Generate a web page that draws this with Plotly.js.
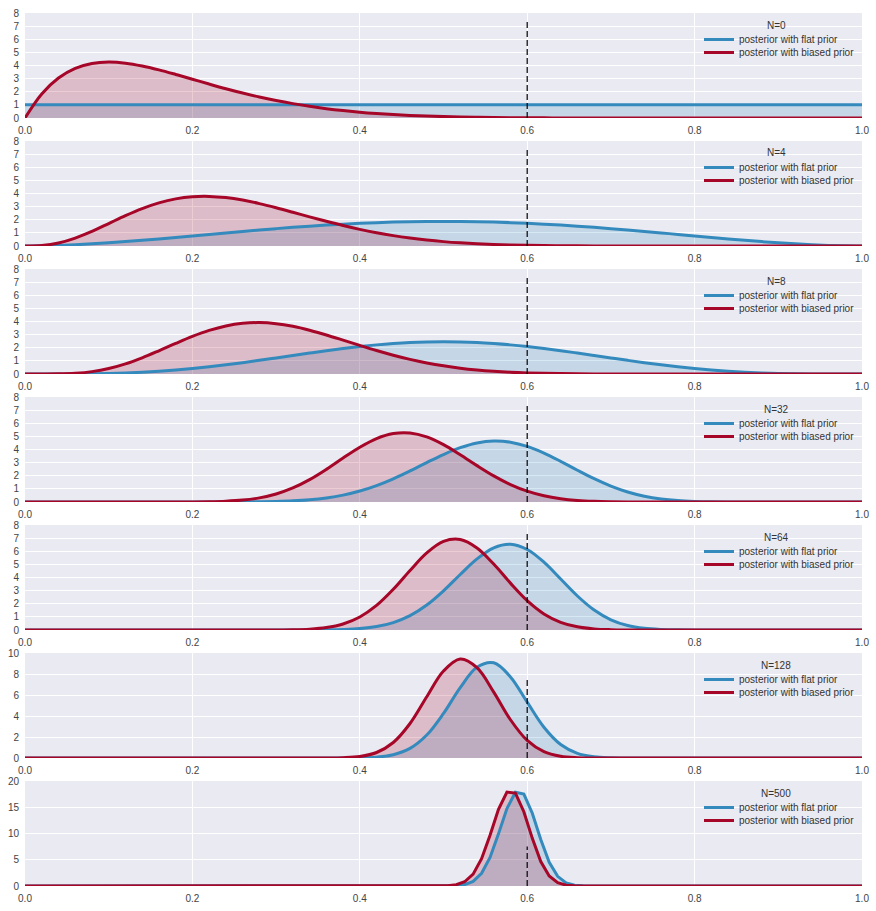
<!DOCTYPE html>
<html>
<head>
<meta charset="utf-8">
<script src="https://cdn.plot.ly/plotly-3.0.1.min.js"></script>
<style>html,body{margin:0;padding:0;background:#fff}#chart{width:876px;height:911px}</style>
</head>
<body>
<div id="chart"></div>
<script>
// grid of probabilities for panels N=0..128
const xs = [0,0.02,0.04,0.06,0.08,0.1,0.12,0.14,0.16,0.18,0.2,0.22,0.24,0.26,0.28,0.3,0.32,0.34,0.36,0.38,0.4,0.42,0.44,0.46,0.48,0.5,0.52,0.54,0.56,0.58,0.6,0.62,0.64,0.66,0.68,0.7,0.72,0.74,0.76,0.78,0.8,0.82,0.84,0.86,0.88,0.9,0.92,0.94,0.96,0.98,1];
// grid for N=500 panel
const xs500 = [0,0.4646,0.4747,0.4848,0.4949,0.5051,0.5152,0.5253,0.5354,0.5455,0.5556,0.5657,0.5758,0.5859,0.5960,0.6061,0.6162,0.6263,0.6364,0.6465,0.6566,0.6667,0.6768,0.6869,0.6970,1];

const sampleSizes = ["N=0","N=4","N=8","N=32","N=64","N=128","N=500"];
const seriesNames = ["posterior with flat prior", "posterior with biased prior"];
const trueP = 0.6;
const yMax = [8,8,8,8,8,10,20];
const yStep = [1,1,1,1,1,2,5];
const xTicks = [0, 0.2, 0.4, 0.6, 0.8, 1.0];

const flat0 = [1,1,1,1,1,1,1,1,1,1,1,1,1,1,1,1,1,1,1,1,1,1,1,1,1,1,1,1,1,1,1,1,1,1,1,1,1,1,1,1,1,1,1,1,1,1,1,1,1,1,1];
const biased0 = [0,1.834,3.047,3.782,4.155,4.261,4.178,3.963,3.664,3.318,2.953,2.586,2.233,1.903,1.601,1.332,1.094,0.889,0.713,0.566,0.443,0.343,0.262,0.198,0.147,0.107,0.077,0.055,0.038,0.026,0.017,0.011,0.007,0.004,0.003,0.002,0,0,0,0,0,0,0,0,0,0,0,0,0,0,0];

const flat4 = [0,0.012,0.044,0.095,0.163,0.243,0.335,0.435,0.542,0.654,0.768,0.883,0.998,1.111,1.219,1.323,1.421,1.511,1.593,1.665,1.728,1.780,1.821,1.851,1.869,1.875,1.869,1.851,1.821,1.780,1.728,1.665,1.593,1.511,1.421,1.323,1.219,1.111,0.998,0.883,0.768,0.654,0.542,0.435,0.335,0.243,0.163,0.095,0.044,0.012,0];
const biased4 = [0,0.035,0.223,0.597,1.117,1.713,2.313,2.851,3.286,3.589,3.752,3.780,3.688,3.497,3.231,2.915,2.572,2.221,1.880,1.559,1.268,1.011,0.790,0.605,0.454,0.333,0.239,0.168,0.115,0.076,0.050,0.031,0.019,0.011,0.006,0.003,0,0,0,0,0,0,0,0,0,0,0,0,0,0,0];

const flat8 = [0,0.0001,0.001,0.006,0.019,0.041,0.078,0.132,0.206,0.299,0.413,0.546,0.697,0.863,1.041,1.225,1.413,1.597,1.775,1.941,2.090,2.219,2.322,2.399,2.445,2.461,2.445,2.399,2.322,2.219,2.090,1.941,1.775,1.597,1.413,1.225,1.041,0.863,0.697,0.546,0.413,0.299,0.206,0.132,0.078,0.041,0.019,0.006,0.001,0.0001,0];
const biased8 = [0,0.0004,0.010,0.057,0.181,0.414,0.769,1.232,1.769,2.331,2.864,3.319,3.658,3.859,3.915,3.833,3.631,3.335,2.975,2.580,2.177,1.788,1.430,1.113,0.843,0.621,0.444,0.309,0.208,0.135,0.085,0.051,0.030,0.017,0.009,0.004,0.002,0,0,0,0,0,0,0,0,0,0,0,0,0,0];

const flat32 = [0,0,0,0,0,0,0,0,0,0,0,0,0.002,0.007,0.018,0.041,0.087,0.171,0.310,0.526,0.837,1.253,1.771,2.369,3.005,3.618,4.139,4.499,4.646,4.556,4.236,3.727,3.096,2.420,1.773,1.210,0.765,0.444,0.234,0.110,0.046,0.016,0.005,0.001,0,0,0,0,0,0,0];
const biased32 = [0,0,0,0,0,0,0,0,0,0,0.006,0.020,0.058,0.145,0.315,0.611,1.069,1.703,2.486,3.346,4.171,4.833,5.218,5.261,4.958,4.368,3.599,2.770,1.989,1.329,0.824,0.472,0.249,0.120,0.052,0.021,0.007,0.002,0,0,0,0,0,0,0,0,0,0,0,0,0];

const flat64 = [0,0,0,0,0,0,0,0,0,0,0,0,0,0,0,0,0,0.003,0.012,0.039,0.106,0.259,0.562,1.090,1.899,2.983,4.229,5.416,6.263,6.534,6.135,5.167,3.885,2.592,1.522,0.779,0.343,0.128,0.040,0.010,0.002,0,0,0,0,0,0,0,0,0,0];
const biased64 = [0,0,0,0,0,0,0,0,0,0,0,0,0,0,0,0.005,0.019,0.064,0.185,0.461,0.994,1.873,3.101,4.535,5.873,6.751,6.894,6.249,5.023,3.571,2.236,1.226,0.585,0.241,0.084,0.025,0.006,0,0,0,0,0,0,0,0,0,0,0,0,0,0];

const flat128 = [0,0,0,0,0,0,0,0,0,0,0,0,0,0,0,0,0,0,0,0.003,0.018,0.084,0.310,0.915,2.186,4.241,6.704,8.639,9.067,7.726,5.314,2.929,1.280,0.438,0.115,0.023,0.003,0,0,0,0,0,0,0,0,0,0,0,0,0,0];
const biased128 = [0,0,0,0,0,0,0,0,0,0,0,0,0,0,0,0,0,0,0.005,0.032,0.147,0.525,1.476,3.286,5.831,8.279,9.426,8.600,6.273,3.642,1.671,0.600,0.166,0.035,0.006,0,0,0,0,0,0,0,0,0,0,0,0,0,0,0,0];

const flat500 = [0,0,0,0.0003,0.002,0.013,0.064,0.264,0.887,2.432,5.440,9.931,14.766,17.851,17.498,13.863,8.843,4.521,1.844,0.596,0.152,0.030,0.005,0.0005,0,0];
const biased500 = [0,0,0.0002,0.002,0.010,0.055,0.232,0.804,2.266,5.190,9.660,14.598,17.880,17.709,14.142,9.074,4.659,1.906,0.618,0.158,0.032,0.005,0.0005,0,0,0];

const panels = [
  {x: xs, flat: flat0, biased: biased0, shape: "spline"},
  {x: xs, flat: flat4, biased: biased4, shape: "spline"},
  {x: xs, flat: flat8, biased: biased8, shape: "spline"},
  {x: xs, flat: flat32, biased: biased32, shape: "spline"},
  {x: xs, flat: flat64, biased: biased64, shape: "spline"},
  {x: xs, flat: flat128, biased: biased128, shape: "spline"},
  {x: xs500, flat: flat500, biased: biased500, shape: "linear"}
];

const BLUE = "#348ABD", RED = "#A60628";
const BLUE_FILL = "rgba(52,138,189,0.2)", RED_FILL = "rgba(166,6,40,0.2)";
const FONT = "'Liberation Sans', Arial, sans-serif";
const W = 876, H = 911, TOP0 = 13, PITCH = 128, PH = 105, L = 25, R = 14;
const LEG_LEFT = 699;

const traces = [];
const layout = {
  width: W, height: H,
  margin: {l: L, r: R, t: 0, b: 0},
  paper_bgcolor: "#ffffff",
  plot_bgcolor: "#EAEAF2",
  font: {family: FONT, size: 10, color: "#333"},
  shapes: [],
  annotations: []
};

const px2x = px => (px - L) / (W - L - R);
const py2y = py => 1 - py / H;

panels.forEach((p, k) => {
  const sfx = k === 0 ? "" : String(k + 1);
  const xa = "x" + sfx, ya = "y" + sfx;
  const legA = "legend" + (2 * k + 1 === 1 ? "" : String(2 * k + 1));
  const legB = "legend" + String(2 * k + 2);
  // fills first
  traces.push({x: p.x, y: p.flat, xaxis: xa, yaxis: ya, type: "scatter", mode: "lines",
    line: {width: 0, color: BLUE, shape: p.shape}, fill: "tozeroy", fillcolor: BLUE_FILL,
    showlegend: false, hoverinfo: "skip"});
  traces.push({x: p.x, y: p.biased, xaxis: xa, yaxis: ya, type: "scatter", mode: "lines",
    line: {width: 0, color: RED, shape: p.shape}, fill: "tozeroy", fillcolor: RED_FILL,
    showlegend: false, hoverinfo: "skip"});
  // lines on top
  traces.push({x: p.x, y: p.flat, xaxis: xa, yaxis: ya, type: "scatter", mode: "lines",
    line: {width: 3, color: BLUE, shape: p.shape}, name: seriesNames[0], legend: legA});
  traces.push({x: p.x, y: p.biased, xaxis: xa, yaxis: ya, type: "scatter", mode: "lines",
    line: {width: 3, color: RED, shape: p.shape}, name: seriesNames[1], legend: legB});

  const top = TOP0 + PITCH * k, bot = top + PH;
  layout["xaxis" + sfx] = {
    anchor: ya, domain: [0, 1], range: [0, 1],
    tickvals: xTicks, tickformat: ".1f",
    showgrid: true, gridcolor: "#ffffff", gridwidth: 1, zeroline: false, showline: false,
    ticks: "", ticklabelstandoff: 5, tickfont: {size: 10, color: "#444"}
  };
  layout["yaxis" + sfx] = {
    anchor: xa, domain: [py2y(bot), py2y(top)], range: [0, yMax[k]],
    dtick: yStep[k], tick0: 0,
    showgrid: true, gridcolor: "#ffffff", gridwidth: 1, zeroline: false, showline: false,
    ticks: "", ticklabelstandoff: 5, tickfont: {size: 10, color: "#444"}
  };
  const legBase = {
    x: px2x(LEG_LEFT), xanchor: "left", yanchor: "top",
    bgcolor: "rgba(0,0,0,0)", borderwidth: 0,
    font: {size: 10, color: "#333"}
  };
  layout[legA] = Object.assign({}, legBase, {y: py2y(top + 12)});
  layout[legB] = Object.assign({}, legBase, {y: py2y(top + 25)});
  layout.annotations.push({
    text: sampleSizes[k], xref: "paper", yref: "paper",
    x: px2x(776), y: py2y(top + 12), xanchor: "center", yanchor: "middle",
    showarrow: false, font: {size: 10, color: "#333"}
  });
  layout.shapes.push({type: "line", xref: xa, yref: ya, x0: trueP, x1: trueP, y0: 0, y1: 7.5,
    line: {color: "#000", width: 1.2, dash: "6px,3px"}});
});

Plotly.newPlot("chart", traces, layout, {displayModeBar: false, staticPlot: true});
</script>
</body>
</html>
